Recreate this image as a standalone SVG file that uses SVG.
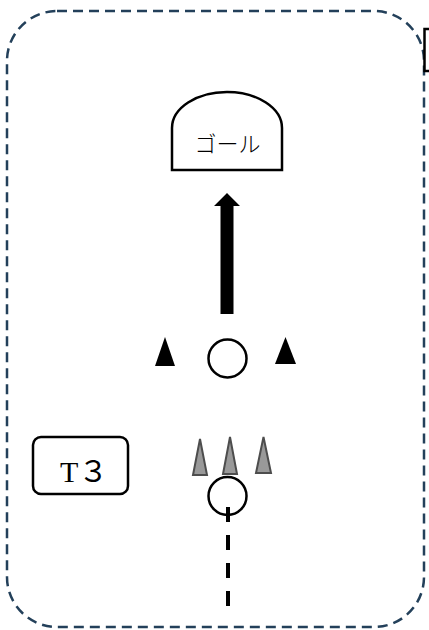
<svg xmlns="http://www.w3.org/2000/svg" width="429" height="630" viewBox="0 0 429 630">
  <style>
    .outline { fill: #ffffff; stroke: #000000; stroke-width: 2.5; }
    .cone-dark { fill: #000000; }
    .cone-grey { fill: #999999; stroke: #4d4d4d; stroke-width: 2; }
    .label-serif { font-family: "Liberation Serif", "Noto Sans CJK JP", serif; fill: #000000; }
    .label-cjk { font-family: "Noto Sans CJK JP", "Liberation Sans", sans-serif; font-weight: 300; fill: #000000; }
  </style>

  <!-- area boundary -->
  <rect id="area" x="7" y="11" width="417" height="616" rx="50" ry="50" fill="none" stroke="#23405a" stroke-width="2.5" stroke-dasharray="10 6"/>

  <!-- box cut off at the right edge -->
  <g id="edge-box">
    <rect x="424.5" y="29" width="20" height="42" class="outline"/>
  </g>

  <!-- goal -->
  <g id="goal">
    <path d="M172,170 L172,128 A55,36 0 0 1 282,128 L282,170 Z" class="outline"/>
    <text x="227.5" y="151.5" font-size="22" text-anchor="middle" class="label-cjk">ゴール</text>
  </g>

  <!-- players -->
  <g id="player-front">
    <circle cx="227.5" cy="358.5" r="19" class="outline"/>
  </g>
  <g id="player-back">
    <circle cx="227.5" cy="496" r="19" class="outline"/>
  </g>

  <!-- cones -->
  <g id="cone-left">
    <polygon points="155,366 165,337 175,366" class="cone-dark"/>
  </g>
  <g id="cone-right">
    <polygon points="275,364 285.5,337 296,364" class="cone-dark"/>
  </g>
  <g id="cone-grey-1">
    <polygon points="193,475 200,439 207,475" class="cone-grey"/>
  </g>
  <g id="cone-grey-2">
    <polygon points="223,474 230,437 237,474" class="cone-grey"/>
  </g>
  <g id="cone-grey-3">
    <polygon points="256,473 263.5,437 271,473" class="cone-grey"/>
  </g>

  <!-- team label -->
  <g id="team-t3">
    <rect x="33" y="437" width="95" height="57" rx="8" ry="8" class="outline"/>
    <text x="60" y="482" font-size="30" class="label-serif">T３</text>
  </g>

  <!-- movement lines -->
  <g id="connectors">
    <path d="M220.5,314 L220.5,206 L214,206 L227,193 L240,206 L233.5,206 L233.5,314 Z" fill="#000000"/>
    <line x1="228" y1="507" x2="228" y2="607" stroke="#000000" stroke-width="4" stroke-dasharray="15 13"/>
  </g>
</svg>
